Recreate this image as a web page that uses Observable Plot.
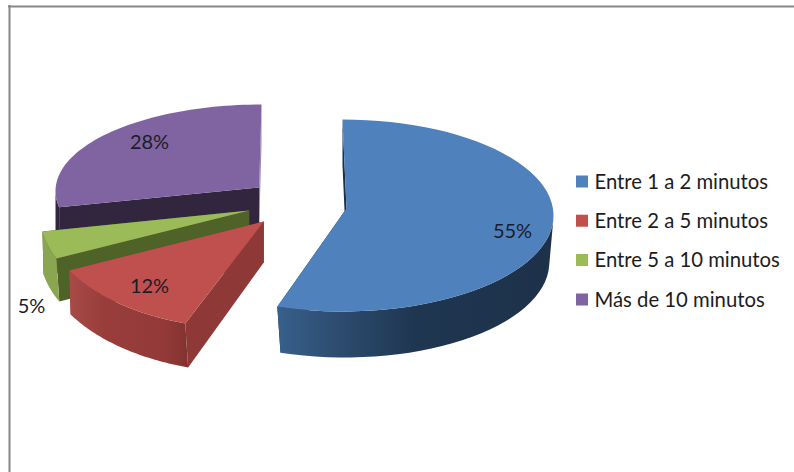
<!DOCTYPE html>
<html><head><meta charset="utf-8">
<style>html,body{margin:0;padding:0;background:#fff}svg{display:block}</style>
<script src="https://cdn.jsdelivr.net/npm/d3@7"></script>
<script src="https://cdn.jsdelivr.net/npm/@observablehq/plot@0.6"></script>
</head><body><div id="chart"></div>
<script>
const categories = ["Entre 1 a 2 minutos", "Entre 2 a 5 minutos", "Entre 5 a 10 minutos", "Más de 10 minutos"];
const shares = [55, 12, 5, 28];
const colors = ["#4f81bd", "#c0504d", "#9bbb59", "#8064a2"];

// Layout of the exploded, tilted slices (canvas units): ellipse, apex, extrusion
const sliceLayout = [
  {cx:342,cy:215,rx:211,ry:96,ax:346,ay:208,dx:2,dy:46,bs:.98,ady:46,side:"url(#gBlue)",cutS:"#1b2f47",cutE:"#1b2f47",lx:512,ly:231},
  {cx:248,cy:215.5,rx:204.6,ry:113,ax:263.3,ay:221,dx:3,dy:44,bs:1,ady:41,side:"url(#gRed)",cutS:"#8e3937",cutE:"#8e3937",lx:149,ly:286},
  {cx:171.6,cy:213.7,rx:132,ry:92,ax:248.7,ay:210,dx:6,dy:43,bs:1,ady:43,side:"#8ba650",cutS:"#4f6228",cutE:"#4f6228",lx:31,ly:306},
  {cx:261,cy:190.5,rx:206,ry:86.5,ax:258.7,ay:187,dx:0,dy:40,bs:1,ady:40,side:"#32263f",cutS:"#32263f",cutE:"#9c8eb4",lx:149,ly:142}
];
const drawOrder = [0, 3, 2, 1];
const legendY = [181.5, 220.7, 260, 299.5];

const cum = d3.cumsum(shares);
const slices = categories.map((name,i)=>({name,share:shares[i],color:colors[i],
  a0:(i?cum[i-1]:0)/100*2*Math.PI, a1:cum[i]/100*2*Math.PI, ...sliceLayout[i]}));

const top_ = (s,a)=>[s.cx+s.rx*Math.sin(a), s.cy-s.ry*Math.cos(a)];
const bot_ = (s,a)=>[s.cx+s.dx*Math.max(0,-Math.cos(a))+s.rx*s.bs*Math.sin(a), s.cy+s.dy-s.ry*Math.cos(a)];
const arcAngles = s=>d3.range(0,61).map(k=>s.a0+(s.a1-s.a0)*k/60);
const poly = (pts,fill)=>Plot.line(pts,{x:d=>d[0],y:d=>d[1],fill,stroke:"none",curve:"linear"});
const cut = (s,a,fill)=>poly([[s.ax,s.ay],top_(s,a),bot_(s,a),[s.ax,s.ay+s.ady]],fill);

const sliceMarks = drawOrder.flatMap(i=>{
  const s=slices[i], as=arcAngles(s), front=as.filter(a=>Math.cos(a)<=0);
  return [
    cut(s,s.a1,s.cutE),
    cut(s,s.a0,s.cutS),
    poly([...front.map(a=>top_(s,a)),...front.slice().reverse().map(a=>bot_(s,a))],s.side),
    poly([[s.ax,s.ay],...as.map(a=>top_(s,a))],s.color)
  ];
});

function gradient(id,stops){
  return `<linearGradient id="${id}" x1="0" x2="1" y1="0" y2="0">`+
    stops.map(([o,c])=>`<stop offset="${o}" stop-color="${c}"/>`).join("")+`</linearGradient>`;
}
const defsMark = ()=>{
  const g=document.createElementNS("http://www.w3.org/2000/svg","defs");
  g.innerHTML = gradient("gBlue",[[0,"#37608c"],[.18,"#2f4f74"],[.5,"#1f3651"],[1,"#1d3149"]])
    + gradient("gRed",[[0,"#a94a47"],[.3,"#983d3b"],[.8,"#933a38"],[1,"#823230"]]);
  return g;
};

const font = "Lato, Carlito, sans-serif";
const plot = Plot.plot({
  width:794,height:472,margin:0,
  x:{domain:[0,794],range:[0,794],axis:null},
  y:{domain:[0,472],range:[0,472],axis:null},
  style:{background:"#fff",fontFamily:font},
  marks:[
    defsMark,
    Plot.ruleX([9],{y1:5,y2:472,stroke:"#878787",strokeWidth:2}),
    Plot.ruleY([6],{x1:8,x2:794,stroke:"#878787",strokeWidth:2}),
    ...sliceMarks,
    Plot.text(slices,{x:"lx",y:"ly",text:d=>d.share+"%",fontSize:20,fill:"#1c1c28",textAnchor:"middle",lineAnchor:"middle"}),
    Plot.rect(slices,{x1:()=>576,x2:()=>588,y1:(d,i)=>legendY[i]-6,y2:(d,i)=>legendY[i]+6,fill:"color"}),
    Plot.text(slices,{x:()=>594,y:(d,i)=>legendY[i],text:"name",fontSize:20.3,fill:"#1c1c1c",textAnchor:"start",lineAnchor:"middle"})
  ]
});
document.getElementById("chart").append(plot);
</script></body></html>
